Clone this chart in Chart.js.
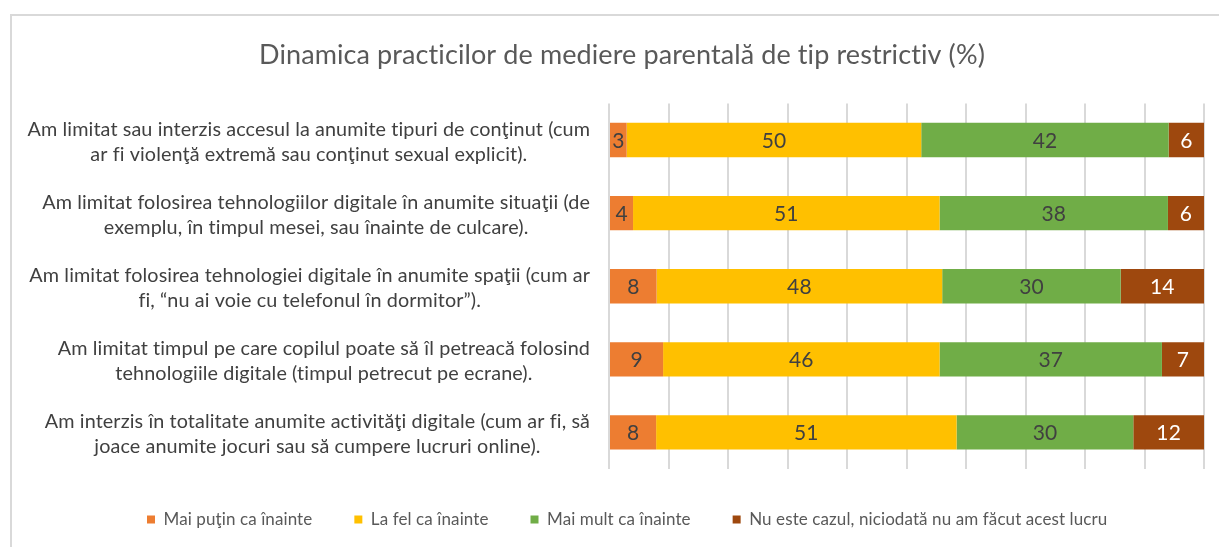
<!DOCTYPE html>
<html>
<head>
<meta charset="utf-8">
<script src="https://cdn.jsdelivr.net/npm/chart.js@4"></script>
<style>
  body { margin: 0; background: #fff; }
  #frame { position: absolute; left: 10px; top: 14px; right: 0; bottom: 0; border-left: 2px solid #d9d9d9; border-top: 2px solid #d9d9d9; }
  #chart { position: absolute; left: 0; top: 0; }
</style>
</head>
<body>
<div id="frame"></div>
<canvas id="chart" width="1219" height="547"></canvas>
<script>
// categories (each one a list of lines, as in the picture)
const categories = [
  ['Am limitat sau interzis accesul la anumite tipuri de conţinut (cum', 'ar fi violenţă extremă sau conţinut sexual explicit).'],
  ['Am limitat folosirea tehnologiilor digitale în anumite situaţii (de', 'exemplu, în timpul mesei, sau înainte de culcare).'],
  ['Am limitat folosirea tehnologiei digitale în anumite spaţii (cum ar', 'fi, “nu ai voie cu telefonul în dormitor”).'],
  ['Am limitat timpul pe care copilul poate să îl petreacă folosind', 'tehnologiile digitale (timpul petrecut pe ecrane).'],
  ['Am interzis în totalitate anumite activităţi digitale (cum ar fi, să', 'joace anumite jocuri sau să cumpere lucruri online).']
];

const seriesNames = [
  'Mai puţin ca înainte',
  'La fel ca înainte',
  'Mai mult ca înainte',
  'Nu este cazul, niciodată nu am făcut acest lucru'
];

const maiPutin = [3, 4, 8, 9, 8];
const laFel    = [50, 51, 48, 46, 51];
const maiMult  = [42, 38, 30, 37, 30];
const nuEste   = [6, 6, 14, 7, 12];

const colors = ['#ED7D31', '#FFC000', '#70AD47', '#9E480E'];
const labelColors = ['#404040', '#404040', '#404040', '#ffffff'];

const FONT = 'Lato, "Liberation Sans", sans-serif';

// 100% stacked: every bar is scaled to its own total
const raw = [maiPutin, laFel, maiMult, nuEste];
const totals = categories.map((c, i) => raw.reduce((s, arr) => s + arr[i], 0));

const datasets = raw.map((arr, k) => ({
  label: seriesNames[k],
  data: arr.map((v, i) => v / totals[i] * 100),
  rawValues: arr,
  backgroundColor: colors[k],
  borderWidth: 0,
  barPercentage: 0.47,
  categoryPercentage: 1
}));

// no fi / ti ligatures, like the original
const noLigatures = {
  id: 'noLigatures',
  beforeDraw(chart) { chart.ctx.letterSpacing = '0.1px'; }
};

// value labels in the middle of each segment
const valueLabels = {
  id: 'valueLabels',
  afterDatasetsDraw(chart) {
    const ctx = chart.ctx;
    ctx.save();
    ctx.font = '21px ' + FONT;
    ctx.textAlign = 'center';
    ctx.textBaseline = 'middle';
    chart.data.datasets.forEach((ds, k) => {
      chart.getDatasetMeta(k).data.forEach((bar, i) => {
        ctx.fillStyle = labelColors[k];
        ctx.fillText(String(ds.rawValues[i]), (bar.x + bar.base) / 2, bar.y + 1);
      });
    });
    ctx.restore();
  }
};

// category labels: each block right-aligned to the axis, lines centred inside it
const categoryLabels = {
  id: 'categoryLabels',
  afterDraw(chart) {
    const ctx = chart.ctx;
    const yScale = chart.scales.y;
    const right = chart.chartArea.left - 19;
    const lineH = 25;
    ctx.save();
    ctx.font = '19.8px ' + FONT;
    ctx.fillStyle = '#404040';
    ctx.textAlign = 'center';
    ctx.textBaseline = 'middle';
    categories.forEach((lines, i) => {
      const y = yScale.getPixelForValue(i) + 2;
      const w = Math.max(...lines.map(l => ctx.measureText(l).width));
      const cx = right - w / 2;
      lines.forEach((l, j) => {
        ctx.fillText(l, cx, y + (j - (lines.length - 1) / 2) * lineH);
      });
    });
    ctx.restore();
  }
};

new Chart(document.getElementById('chart'), {
  type: 'bar',
  data: {
    labels: categories.map(c => c.join(' ')),
    datasets: datasets
  },
  options: {
    indexAxis: 'y',
    responsive: false,
    animation: false,
    layout: { padding: { left: 40, right: 15, top: 0, bottom: 9 } },
    plugins: {
      title: {
        display: true,
        text: 'Dinamica practicilor de mediere parentală de tip restrictiv (%)',
        color: '#595959',
        font: { family: FONT, size: 27, weight: 'normal' },
        padding: { top: 39, bottom: 32 }
      },
      legend: {
        position: 'bottom',
        labels: {
          color: '#595959',
          font: { family: FONT, size: 17 },
          boxWidth: 8,
          boxHeight: 8,
          padding: 42
        }
      },
      tooltip: { enabled: false }
    },
    scales: {
      x: {
        stacked: true,
        min: 0,
        max: 100,
        ticks: { display: false, stepSize: 10 },
        grid: { color: '#d9d9d9', lineWidth: 2, drawTicks: false },
        border: { display: false },
        afterFit: s => { s.height = 0; }
      },
      y: {
        stacked: true,
        ticks: { display: false },
        grid: { display: false },
        border: { display: false },
        afterFit: s => { s.width = 569; }
      }
    }
  },
  plugins: [noLigatures, valueLabels, categoryLabels]
});
</script>
</body>
</html>
